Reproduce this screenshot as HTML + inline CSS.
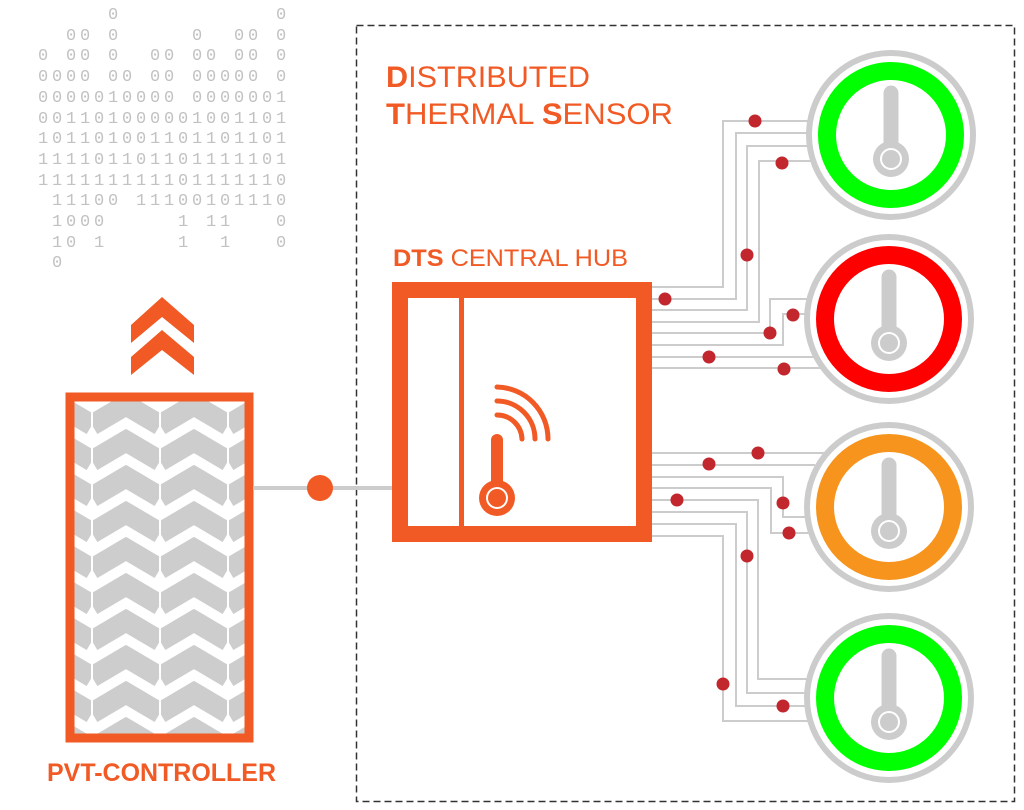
<!DOCTYPE html>
<html><head><meta charset="utf-8"><style>
html,body{margin:0;padding:0;background:#fff;}
svg{display:block;}
pre{position:absolute;left:38px;top:6px;margin:0;font-family:"Liberation Mono",monospace;font-size:17px;letter-spacing:3.8px;line-height:20.7px;color:#c2c2c2;}
</style></head><body>
<svg width="1024" height="810" viewBox="0 0 1024 810" xmlns="http://www.w3.org/2000/svg">
<defs>
<pattern id="chev" patternUnits="userSpaceOnUse" x="92" y="395" width="68" height="36">
<rect width="68" height="36" fill="#fff"/>
<g fill="none" stroke="#cdcdcd" stroke-width="21">
<polyline points="0,-6 34,-26 68,-6"/>
<polyline points="0,30 34,10 68,30"/>
<polyline points="0,66 34,46 68,66"/>
</g>
<rect x="-1" y="0" width="2" height="36" fill="#fff"/>
<rect x="67" y="0" width="2" height="36" fill="#fff"/>
</pattern>
<g id="therm">
<line x1="0" y1="-42" x2="0" y2="20" stroke="#cccccc" stroke-width="15" stroke-linecap="round"/>
<circle cx="0" cy="24" r="18" fill="#cccccc"/>
<circle cx="0" cy="24" r="11" fill="#fff"/>
<circle cx="0" cy="24" r="9" fill="#cccccc"/>
</g>
</defs>

<!-- dashed box -->
<rect x="356.5" y="25.5" width="658" height="776" fill="none" stroke="#333" stroke-width="1.5" stroke-dasharray="7 4"/>

<!-- titles -->
<g font-family="Liberation Sans, sans-serif" fill="#f15a24">
<text x="386" y="87" font-size="30" textLength="204" lengthAdjust="spacingAndGlyphs"><tspan font-weight="bold">D</tspan>ISTRIBUTED</text>
<text x="386" y="124" font-size="30" textLength="287" lengthAdjust="spacingAndGlyphs"><tspan font-weight="bold">T</tspan>HERMAL <tspan font-weight="bold">S</tspan>ENSOR</text>
<text x="393" y="266" font-size="24" textLength="235" lengthAdjust="spacingAndGlyphs"><tspan font-weight="bold">DTS</tspan> CENTRAL HUB</text>
<text x="47" y="781" font-size="25" font-weight="bold" textLength="229" lengthAdjust="spacingAndGlyphs">PVT-CONTROLLER</text>
</g>

<!-- up chevrons -->
<g fill="#f15a24">
<polygon points="162,297 194,325 194,343 162,317 131,343 131,325"/>
<polygon points="162,330 194,357 194,375 162,350 131,375 131,357"/>
</g>

<!-- PVT box -->
<rect x="70" y="397" width="179" height="341" fill="url(#chev)" stroke="#f15a24" stroke-width="9"/>

<!-- link -->
<line x1="253" y1="488" x2="393" y2="488" stroke="#cccccc" stroke-width="4"/>
<circle cx="320" cy="488" r="13" fill="#f15a24"/>

<!-- wires -->
<g fill="none" stroke="#cccccc" stroke-width="2">
<polyline points="652,287 723,287 723,121 815,121"/>
<polyline points="652,299 736,299 736,133 810,133"/>
<polyline points="652,310 747,310 747,146 810,146"/>
<polyline points="652,322 759,322 759,161 815,161"/>
<polyline points="652,333 770,333 770,299 815,299"/>
<polyline points="652,345 783,345 783,314 810,314"/>
<polyline points="652,357 815,357"/>
<polyline points="652,368 825,368"/>
<polyline points="652,453 825,453"/>
<polyline points="652,465 815,465"/>
<polyline points="652,477 783,477 783,517 810,517"/>
<polyline points="652,488 771,488 771,533 815,533"/>
<polyline points="652,500 758,500 758,679 820,679"/>
<polyline points="652,512 747,512 747,693 810,693"/>
<polyline points="652,524 736,524 736,706 810,706"/>
<polyline points="652,536 723,536 723,721 820,721"/>
</g>
<g fill="#c1272d">
<circle cx="755" cy="121" r="6.5"/>
<circle cx="665" cy="299" r="6.5"/>
<circle cx="747" cy="255" r="6.5"/>
<circle cx="782" cy="163" r="6.5"/>
<circle cx="770" cy="333" r="6.5"/>
<circle cx="793" cy="315" r="6.5"/>
<circle cx="709" cy="357" r="6.5"/>
<circle cx="784" cy="369" r="6.5"/>
<circle cx="758" cy="453" r="6.5"/>
<circle cx="709" cy="464" r="6.5"/>
<circle cx="783" cy="503" r="6.5"/>
<circle cx="789" cy="533" r="6.5"/>
<circle cx="677" cy="500" r="6.5"/>
<circle cx="747" cy="556" r="6.5"/>
<circle cx="783" cy="706" r="6.5"/>
<circle cx="723" cy="684" r="6.5"/>
</g>

<!-- hub -->
<rect x="400" y="290" width="244" height="244" fill="#fff" stroke="#f15a24" stroke-width="16"/>
<rect x="459" y="298" width="5" height="228" fill="#f15a24"/>
<g fill="none" stroke="#f15a24" stroke-width="5" stroke-linecap="round">
<path d="M497,387 A52,52 0 0 1 548,439"/>
<path d="M497,401 A38,38 0 0 1 535,439"/>
<path d="M497,415 A25,25 0 0 1 522,439"/>
<line x1="497" y1="440" x2="497" y2="490" stroke-width="12"/>
</g>
<circle cx="497" cy="498" r="18" fill="#f15a24"/>
<circle cx="497" cy="498" r="11" fill="#fff"/>
<circle cx="497" cy="498" r="9" fill="#f15a24"/>

<!-- sensors -->
<g>
<circle cx="891" cy="135" r="82" fill="#fff" stroke="#cccccc" stroke-width="6"/>
<circle cx="891" cy="135" r="64" fill="#fff" stroke="#00ff00" stroke-width="18"/>
<use href="#therm" x="891" y="135"/>
<circle cx="889" cy="319" r="82" fill="#fff" stroke="#cccccc" stroke-width="6"/>
<circle cx="889" cy="319" r="64" fill="#fff" stroke="#ff0000" stroke-width="18"/>
<use href="#therm" x="889" y="319"/>
<circle cx="889" cy="507" r="82" fill="#fff" stroke="#cccccc" stroke-width="6"/>
<circle cx="889" cy="507" r="64" fill="#fff" stroke="#f7941d" stroke-width="18"/>
<use href="#therm" x="889" y="507"/>
<circle cx="889" cy="698" r="82" fill="#fff" stroke="#cccccc" stroke-width="6"/>
<circle cx="889" cy="698" r="64" fill="#fff" stroke="#00ff00" stroke-width="18"/>
<use href="#therm" x="889" y="698"/>
</g>
</svg>
<pre>     0           0
  00 0     0  00 0
0 00 0  00 00 00 0
0000 00 00 00000 0
0000010000 0000001
001101000001001101
101101001101101101
111101101101111101
111111111101111110
 11100 11100101110
 1000     1 11   0
 10 1     1  1   0
 0</pre>
</body></html>
